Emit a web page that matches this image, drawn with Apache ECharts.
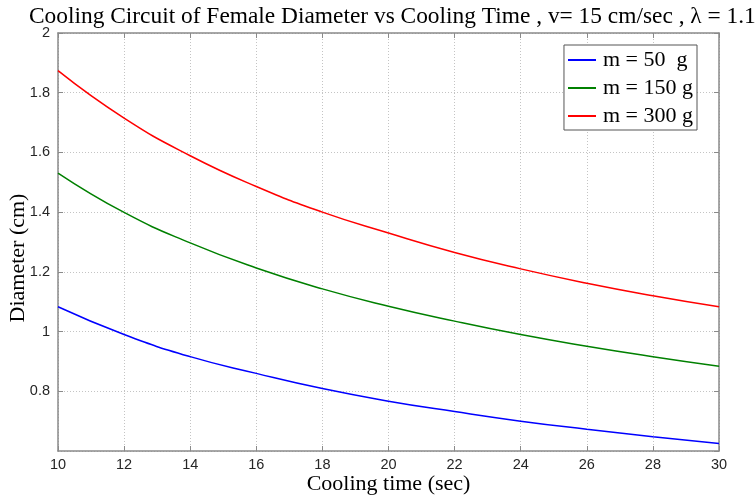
<!DOCTYPE html>
<html>
<head>
<meta charset="utf-8">
<script src="https://cdn.jsdelivr.net/npm/echarts@6/dist/echarts.min.js"></script>
<style>html,body{margin:0;padding:0;background:#fff;}#c{width:755px;height:501px;}</style>
</head>
<body>
<div id="c"></div>
<script>
var coolingTime = [10, 12, 14, 16, 18, 20, 22, 24, 26, 28, 30];
var m50  = [1.083, 0.990, 0.916, 0.860, 0.809, 0.767, 0.732, 0.700, 0.673, 0.648, 0.625];
var m150 = [1.531, 1.399, 1.297, 1.213, 1.143, 1.085, 1.035, 0.990, 0.951, 0.916, 0.884];
var m300 = [1.874, 1.715, 1.589, 1.486, 1.400, 1.330, 1.265, 1.210, 1.162, 1.120, 1.083];
var seriesNames = ['m = 50  g', 'm = 150 g', 'm = 300 g'];
var xTicks = [10, 12, 14, 16, 18, 20, 22, 24, 26, 28, 30];
var yTicks = [0.8, 1, 1.2, 1.4, 1.6, 1.8, 2];

function pairs(ys){ return coolingTime.map(function(x,i){ return [x, ys[i]]; }); }
var serif = 'Liberation Serif';
var sans = 'Liberation Sans';
var axisGray = '#8a8a8a';
var gridStyle = {show:true, lineStyle:{color:'#c4c4c4', type:[1,2], width:1}};

var chart = echarts.init(document.getElementById('c'), null, {renderer:'canvas'});
chart.setOption({
  animation:false,
  backgroundColor:'#ffffff',
  title:{
    text:'Cooling Circuit of Female Diameter vs Cooling Time , v= 15 cm/sec , \u03bb = 1.1',
    left:24, top:0,
    textStyle:{fontFamily:serif, fontSize:23.4, fontWeight:'normal', color:'#000'}
  },
  grid:{left:58, right:36, top:33, bottom:50, containLabel:false, outerBoundsMode:'none'},
  legend:{
    orient:'vertical', right:58, top:45,
    backgroundColor:'#fff', borderColor:'#555', borderWidth:1, borderRadius:0,
    padding:[4,4,3,4], itemGap:6, itemWidth:28, itemHeight:2,
    icon:'rect',
    textStyle:{fontFamily:serif, fontSize:22, lineHeight:22, color:'#000', padding:[0,0,0,2]},
    data:seriesNames
  },
  xAxis:[{
    type:'value', min:10, max:30, interval:2,
    name:'Cooling time (sec)', nameLocation:'middle', nameGap:22, nameMoveOverlap:false,
    nameTextStyle:{fontFamily:serif, fontSize:22, color:'#000'},
    axisLine:{show:true, lineStyle:{color:axisGray, width:1.5}},
    axisTick:{show:true, inside:true, length:5, lineStyle:{color:axisGray}},
    axisLabel:{fontFamily:sans, fontSize:14.5, color:'#262626', margin:6,
      formatter:function(v){ return xTicks.indexOf(v)>=0 ? String(v) : ''; }},
    splitLine:gridStyle
  },{
    type:'value', min:10, max:30, interval:2, position:'top',
    axisLine:{show:true, lineStyle:{color:axisGray, width:1.5}},
    axisTick:{show:true, inside:true, length:5, lineStyle:{color:axisGray}},
    axisLabel:{show:false}, splitLine:{show:false}
  }],
  yAxis:[{
    type:'value', min:0.6, max:2, interval:0.2,
    name:'Diameter (cm)', nameLocation:'middle', nameGap:29, nameMoveOverlap:false,
    nameTextStyle:{fontFamily:serif, fontSize:22, color:'#000', padding:[0,32,0,0]},
    axisLine:{show:true, lineStyle:{color:axisGray, width:1.5}},
    axisTick:{show:true, inside:true, length:5, lineStyle:{color:axisGray}},
    axisLabel:{fontFamily:sans, fontSize:14.5, color:'#262626', margin:8, showMinLabel:false,
      formatter:function(v){ var r=Math.round(v*10)/10; return yTicks.indexOf(r)>=0 ? String(r) : ''; }},
    splitLine:gridStyle
  },{
    type:'value', min:0.6, max:2, interval:0.2, position:'right',
    axisLine:{show:true, lineStyle:{color:axisGray, width:1.5}},
    axisTick:{show:true, inside:true, length:5, lineStyle:{color:axisGray}},
    axisLabel:{show:false}, splitLine:{show:false}
  }],
  series:[
    {name:seriesNames[0], type:'line', data:pairs(m50), smooth:true, showSymbol:false,
     lineStyle:{color:'#0000ff', width:1.5}, itemStyle:{color:'#0000ff'}},
    {name:seriesNames[1], type:'line', data:pairs(m150), smooth:true, showSymbol:false,
     lineStyle:{color:'#008000', width:1.5}, itemStyle:{color:'#008000'}},
    {name:seriesNames[2], type:'line', data:pairs(m300), smooth:true, showSymbol:false,
     lineStyle:{color:'#ff0000', width:1.5}, itemStyle:{color:'#ff0000'}}
  ]
});
</script>
</body>
</html>
